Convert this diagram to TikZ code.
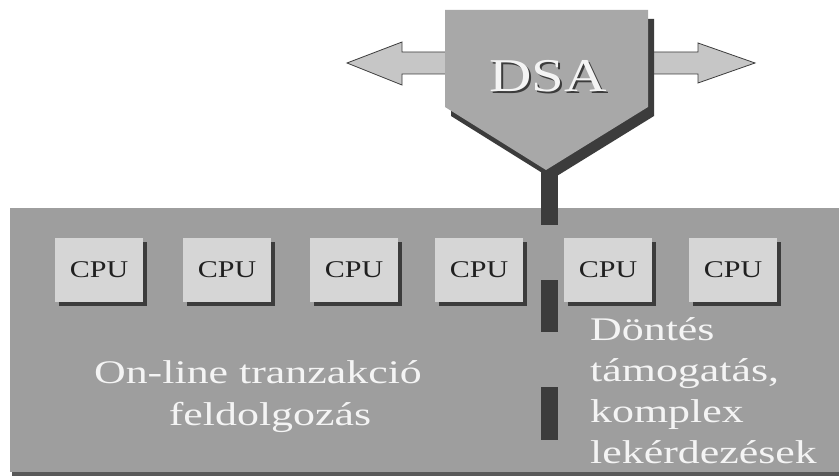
\documentclass[tikz,border=0pt]{standalone}
\usepackage{fontspec}
\usetikzlibrary{shadows}
\newfontfamily\blkfont[FakeStretch=1.25]{Liberation Serif}
\newfontfamily\whtfont[FakeStretch=1.33]{Liberation Serif}
\definecolor{panelgray}{HTML}{9E9E9E}
\definecolor{pentgray}{HTML}{A8A8A8}
\definecolor{cpugray}{HTML}{D6D6D6}
\definecolor{arrowgray}{HTML}{C6C6C6}
\definecolor{shadowc}{HTML}{3C3C3C}
\definecolor{lighttext}{HTML}{F4F4F4}
\definecolor{darktext}{HTML}{202020}
\newcommand{\embossed}[1]{\rlap{\kern1.8pt\raisebox{-1.8pt}{\color{shadowc}#1}}{\color{lighttext}#1}}
\tikzset{
  cpubox/.style={fill=cpugray, minimum width=88pt, minimum height=64pt, inner sep=0pt,
    font=\blkfont\fontsize{24}{28}\selectfont, text=darktext,
    general shadow={fill=shadowc, shadow xshift=4pt, shadow yshift=-4pt}},
  wtext/.style={font=\whtfont\fontsize{33}{41}\selectfont, text=lighttext, inner sep=0pt},
  stemseg/.style={fill=shadowc},
  sidearrow/.style={fill=arrowgray, draw=shadowc, line width=0.8pt, line join=miter},
  dsatext/.style={font=\blkfont\fontsize{47}{50}\selectfont, inner sep=0pt}
}
\begin{document}
\begin{tikzpicture}[x=1pt,y=-1pt]
\useasboundingbox (0,0) rectangle (839,476);
\fill[white] (0,0) rectangle (839,476);
% panel
\fill[panelgray] (10,208) rectangle (839,472);
\fill[shadowc!85] (12,472) rectangle (839,476);
% stem (dashed bus)
\fill[stemseg] (541,150) rectangle (558,225);
\fill[stemseg] (541,280) rectangle (558,332);
\fill[stemseg] (541,387) rectangle (558,440);
% arrows
\draw[sidearrow] (446,52) -- (402,52) -- (402,42) -- (347,63) -- (402,85) -- (402,74) -- (446,74);
\draw[sidearrow] (650,52) -- (698,52) -- (698,43) -- (755,63) -- (698,83) -- (698,74) -- (650,74);
% DSA pentagon with shadow
\fill[shadowc] (451,19) -- (654,19) -- (654,116) -- (552,179) -- (451,116) -- cycle;
\fill[pentgray] (445,10) -- (648,10) -- (648,107) -- (546,170) -- (445,107) -- cycle;
\node[dsatext] (dsa) at (548,77) {\embossed{DSA}};
% CPUs
\node[cpubox] (c1) at (99,270) {CPU};
\node[cpubox] (c2) at (227,270) {CPU};
\node[cpubox] (c3) at (354,270) {CPU};
\node[cpubox] (c4) at (479,270) {CPU};
\node[cpubox] (c5) at (608,270) {CPU};
\node[cpubox] (c6) at (733,270) {CPU};
% texts
\node[wtext, anchor=base] (oltp1) at (258,383) {On-line tranzakció};
\node[wtext, anchor=base] (oltp2) at (270,425) {feldolgozás};
\node[wtext, anchor=base west] (dss1) at (590,340) {Döntés};
\node[wtext, anchor=base west] (dss2) at (590,381) {támogatás,};
\node[wtext, anchor=base west] (dss3) at (590,422) {komplex};
\node[wtext, anchor=base west] (dss4) at (590,463) {lekérdezések};
\end{tikzpicture}
\end{document}
